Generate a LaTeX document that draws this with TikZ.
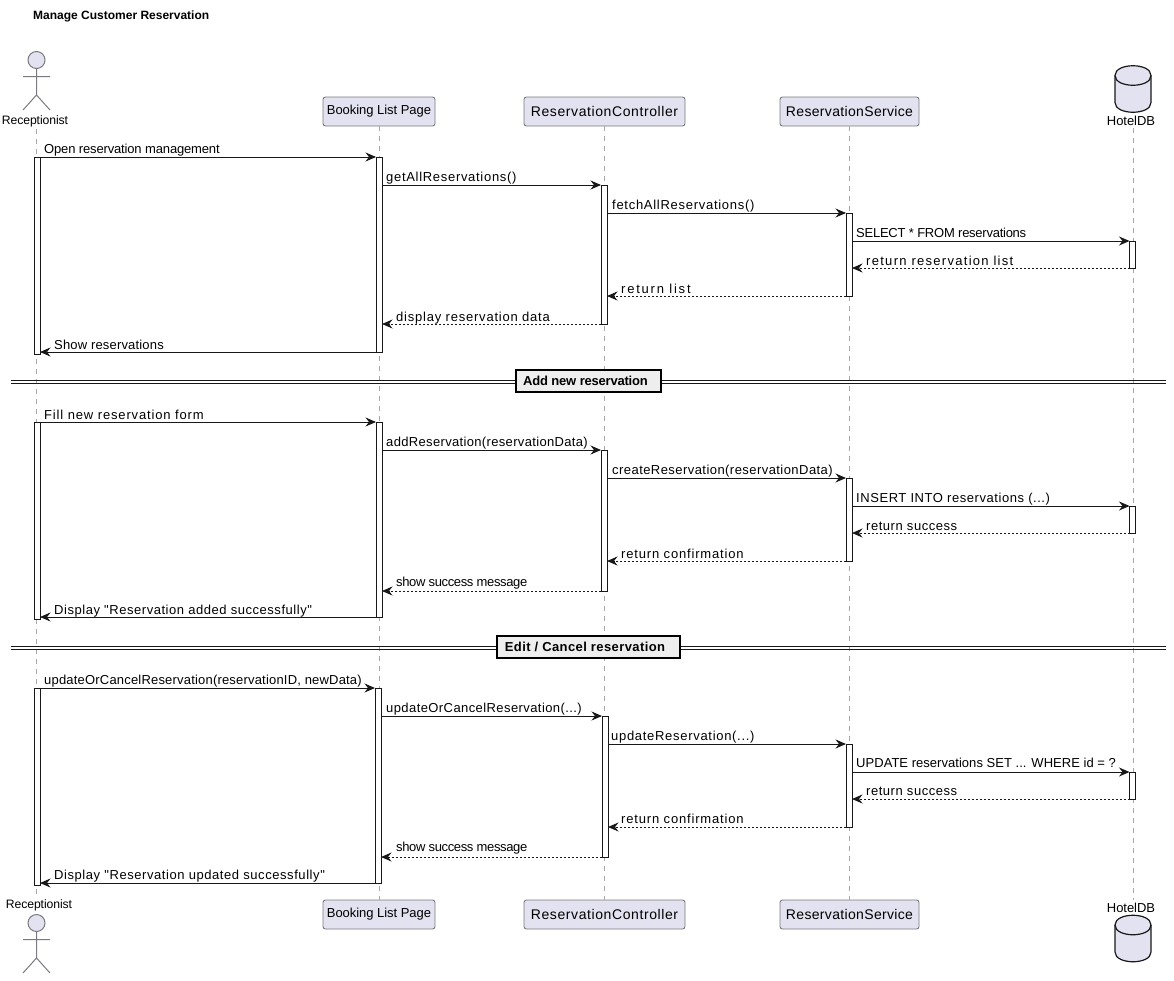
\documentclass[tikz,border=0pt]{standalone}
\usepackage{fontspec}
\setmainfont{Liberation Sans}[Ligatures=TeXOff]
\usetikzlibrary{arrows.meta}
\definecolor{ink}{HTML}{181818}
\definecolor{partfill}{HTML}{E2E2F0}
\definecolor{partline}{HTML}{7A7A80}
\definecolor{lifeline}{HTML}{A8A8A8}
\definecolor{divfill}{HTML}{EEEEEE}
\newsavebox\fitbox
\ExplSyntaxOn
\cs_new:Npn \fitcount #1 {\str_count:n{#1}}
\ExplSyntaxOff
% set text in exactly #1 pt wide, by letter spacing
\newcommand\fittext[2]{%
  \sbox\fitbox{#2}%
  \edef\fitn{\fitcount{#2}}%
  \pgfmathsetmacro\fitls{(#1-\the\wd\fitbox)/(\fitn*13)*100}%
  \edef\fitdo{\noexpand\addfontfeature{LetterSpace=\fitls}}%
  \fitdo #2}
\tikzset{
  x=1pt,y=-1pt,
  part/.style={draw=partline,fill=partfill,line width=0.9pt,rounded corners=2.5pt,minimum height=29pt,inner sep=0pt,font=\fontsize{14}{16}\selectfont},
  actbar/.style={draw=ink,fill=white,line width=1pt,minimum width=6pt,inner sep=0pt,outer sep=0pt},
  life/.style={draw=lifeline,line width=1pt,dash pattern=on 5pt off 5pt},
  msg/.style={draw=ink,line width=0.9pt,-{Stealth[length=10.5pt,width=9pt,inset=3.5pt]}},
  ret/.style={msg,dash pattern=on 2pt off 2pt},
  lbl/.style={anchor=base west,inner sep=0pt,text=black,font=\fontsize{13}{15}\selectfont},
  lab/.style={inner sep=0pt,text=black,font=\fontsize{12.2}{15}\selectfont},
  divbox/.style={draw=black,fill=divfill,line width=1.8pt,inner sep=0pt,minimum height=22pt,font=\bfseries\fontsize{13}{15}\selectfont},
  dbl/.style={draw=ink,line width=0.9pt},
  fig/.style={draw=partline,line width=1pt},
  dbfig/.style={draw=ink,fill=partfill,line width=1.2pt},
  title/.style={anchor=base west,inner sep=0pt,font=\bfseries\fontsize{12}{14}\selectfont}
}
\newcommand\actbar[4]{\node[actbar,anchor=north,minimum height={(#4-#3)*1pt}] (#1) at (#2,#3) {};}
\newcommand\lbltxt[5]{\node[lbl] (#1) at (#2,#3) {\fittext{#4}{#5}};}
\newcommand\callmsg[2]{\draw[msg] (#1.east |- #2.north) -- (#2.north west);}
\newcommand\retmsg[2]{\draw[ret] (#1.south west) -- (#2.east |- #1.south);}
\newcommand\lastmsg[2]{\draw[msg] (#1.south west) -- (#2.east |- #1.south);}
\newcommand\actorfig[2]{%
  \draw[fig,fill=partfill] (#1,#2) circle (8.5);
  \draw[fig] (#1,#2+8.5) -- (#1,#2+35) (#1-13.5,#2+16.5) -- (#1+13.5,#2+16.5)
     (#1-13.5,#2+50) -- (#1,#2+35) -- (#1+13.5,#2+50);}
\newcommand\dbfig[2]{%
  \draw[dbfig] (#1-18,#2+10) .. controls (#1-18,#2-3) and (#1+18,#2-3) .. (#1+18,#2+10)
     -- (#1+18,#2+37) .. controls (#1+18,#2+50) and (#1-18,#2+50) .. (#1-18,#2+37) -- cycle;
  \draw[dbfig,fill=none] (#1-18,#2+10) .. controls (#1-18,#2+23) and (#1+18,#2+23) .. (#1+18,#2+10);}
\begin{document}
\begin{tikzpicture}
\useasboundingbox (0,0) rectangle (1174,980);
\node[title] (title) at (33,19) {Manage Customer Reservation};
% participants
\actorfig{36.5}{60}
\node[lab] (recT) at (35,121.5) {\fittext{66}{Receptionist}};
\node[part,minimum width=112pt] (bookT) at (379,111.5) {\raisebox{1pt}{\fontsize{13}{16}\selectfont\fittext{104}{Booking List Page}}};
\node[part,minimum width=161pt] (ctrlT) at (604.5,111.5) {\raisebox{-0.8pt}{\fittext{147}{ReservationController}}};
\node[part,minimum width=139pt] (servT) at (849.5,111.5) {\raisebox{-0.8pt}{\fittext{127}{ReservationService}}};
\dbfig{1133}{65.5}
\node[lab] (dbT) at (1131,120.5) {\fontsize{13}{16}\selectfont\fittext{48}{HotelDB}};
\actorfig{36.5}{923}
\node[lab] (recB) at (39,905.5) {\fittext{66}{Receptionist}};
\node[part,minimum width=112pt] (bookB) at (379,914.5) {\raisebox{-1pt}{\fontsize{13}{16}\selectfont\fittext{104}{Booking List Page}}};
\node[part,minimum width=161pt] (ctrlB) at (604.5,914.5) {\raisebox{-0.8pt}{\fittext{147}{ReservationController}}};
\node[part,minimum width=139pt] (servB) at (849.5,914.5) {\raisebox{-0.8pt}{\fittext{127}{ReservationService}}};
\node[lab] (dbB) at (1131,908) {\fontsize{13}{16}\selectfont\fittext{48}{HotelDB}};
\dbfig{1133}{915}
\coordinate (recA) at (36,129);
\coordinate (recZ) at (36,896);
\coordinate (dbA) at (1133,128);
\coordinate (dbZ) at (1133,900);
% lifelines
\draw[life] (recA) -- (recZ);
\draw[life] (bookT.south) -- (bookB.north);
\draw[life] (ctrlT.south) -- (ctrlB.north);
\draw[life] (servT.south) -- (servB.north);
\draw[life] (dbA) -- (dbZ);
% dividers
\draw[dbl] (11,380) -- (1166,380) (11,383) -- (1166,383);
\draw[dbl] (11,646) -- (1166,646) (11,649) -- (1166,649);
\node[divbox,minimum width=145pt] (divA) at (588.5,381) {\hspace{-6pt}\fittext{124}{Add new reservation}};
\node[divbox,minimum width=183pt] (divB) at (588.5,647) {\hspace{-7pt}\fittext{162}{Edit / Cancel reservation}};
% group 1
\actbar{ra}{37}{157}{354}
\actbar{ba}{379}{157}{352}
\actbar{ca}{604}{185}{324}
\actbar{sa}{849}{213}{296}
\actbar{da}{1132.5}{241}{268}
\draw[msg] (ra.north) -- (ba.north west);
\callmsg{ba}{ca}
\callmsg{ca}{sa}
\callmsg{sa}{da}
\retmsg{da}{sa}
\retmsg{sa}{ca}
\retmsg{ca}{ba}
\lastmsg{ba}{ra}
\lbltxt{m1}{44}{153}{175}{Open reservation management}
\lbltxt{m2}{386}{181}{131}{getAllReservations()}
\lbltxt{m3}{612}{209}{143}{fetchAllReservations()}
\lbltxt{m4}{856}{237}{169}{SELECT * FROM reservations}
\lbltxt{m5}{866}{265}{151}{return reservation list}
\lbltxt{m6}{621}{293}{73}{return list}
\lbltxt{m7}{396}{321}{156}{display reservation data}
\lbltxt{m8}{54}{349}{110}{Show reservations}
% group 2
\actbar{rb}{37}{422}{619}
\actbar{bb}{379}{422}{617}
\actbar{cb}{604}{450}{591}
\actbar{sb}{849}{478}{561}
\actbar{db}{1132.5}{506}{533}
\draw[msg] (rb.north) -- (bb.north west);
\callmsg{bb}{cb}
\callmsg{cb}{sb}
\callmsg{sb}{db}
\retmsg{db}{sb}
\retmsg{sb}{cb}
\retmsg{cb}{bb}
\lastmsg{bb}{rb}
\lbltxt{n1}{44}{419}{163}{Fill new reservation form}
\lbltxt{n2}{386}{446}{202}{addReservation(reservationData)}
\lbltxt{n3}{612}{474}{221}{createReservation(reservationData)}
\lbltxt{n4}{856}{502}{196}{INSERT INTO reservations (...)}
\lbltxt{n5}{866}{530}{92}{return success}
\lbltxt{n6}{621}{558}{124}{return confirmation}
\lbltxt{n7}{396}{586}{130}{show success message}
\lbltxt{n8}{54}{614}{260}{Display "Reservation added successfully"}
% group 3
\actbar{rc}{37}{688}{885}
\actbar{bc}{378}{688}{883}
\actbar{cc}{605}{716}{857}
\actbar{sc}{849}{744}{827}
\actbar{dc}{1132.5}{772}{799}
\draw[msg] (rc.north) -- (bc.north west);
\callmsg{bc}{cc}
\callmsg{cc}{sc}
\callmsg{sc}{dc}
\retmsg{dc}{sc}
\retmsg{sc}{cc}
\retmsg{cc}{bc}
\lastmsg{bc}{rc}
\lbltxt{p1}{44}{684}{318}{updateOrCancelReservation(reservationID, newData)}
\lbltxt{p2}{386}{712}{196}{updateOrCancelReservation(...)}
\lbltxt{p3}{611}{740}{144}{updateReservation(...)}
\lbltxt{p4}{856}{767}{260}{UPDATE reservations SET ... WHERE id = ?}
\lbltxt{p5}{866}{795}{92}{return success}
\lbltxt{p6}{621}{823}{124}{return confirmation}
\lbltxt{p7}{396}{851}{130}{show success message}
\lbltxt{p8}{54}{879}{273}{Display "Reservation updated successfully"}
\end{tikzpicture}
\end{document}
